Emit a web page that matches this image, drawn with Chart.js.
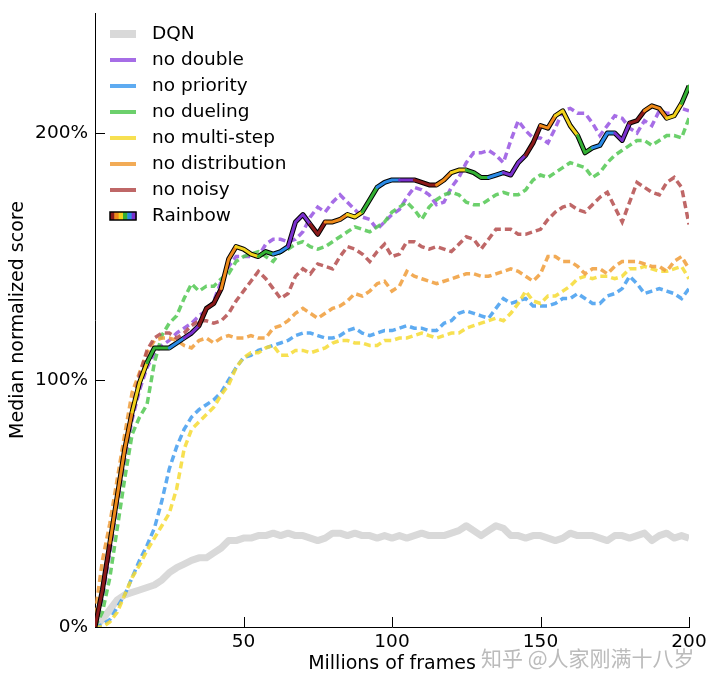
<!DOCTYPE html>
<html>
<head>
<meta charset="utf-8" />
<script src="https://cdn.jsdelivr.net/npm/chart.js@4.4.1/dist/chart.umd.min.js"></script>
<style>
  body { margin: 0; background: #fff; }
  #wrap { position: relative; width: 715px; height: 683px; }
  #mark {
    position: absolute; left: 481px; top: 642px;
    font-family: "Noto Sans CJK SC", sans-serif; font-size: 21px;
    color: rgba(175, 175, 175, 0.85); white-space: nowrap;
  }
</style>
</head>
<body>
<div id="wrap">
  <canvas id="chart" width="715" height="683"></canvas>
  <div id="mark">知乎 @人家刚满十八岁</div>
</div>
<script>
const FONT = "'DejaVu Sans', sans-serif";

// millions of frames, one reading every 2.5
const frames = [
  0, 2.5, 5, 7.5, 10, 12.5, 15, 17.5, 20, 22.5,
  25, 27.5, 30, 32.5, 35, 37.5, 40, 42.5, 45, 47.5,
  50, 52.5, 55, 57.5, 60, 62.5, 65, 67.5, 70, 72.5,
  75, 77.5, 80, 82.5, 85, 87.5, 90, 92.5, 95, 97.5,
  100, 102.5, 105, 107.5, 110, 112.5, 115, 117.5, 120, 122.5,
  125, 127.5, 130, 132.5, 135, 137.5, 140, 142.5, 145, 147.5,
  150, 152.5, 155, 157.5, 160, 162.5, 165, 167.5, 170, 172.5,
  175, 177.5, 180, 182.5, 185, 187.5, 190, 192.5, 195, 197.5, 200,
];

const dqn = [
  0, 3, 7, 11, 13, 14, 15, 16, 17, 19,
  22, 24, 25.5, 27, 28, 28, 30, 32, 35, 35,
  36, 36, 37, 37, 38, 37, 38, 37, 37, 36,
  35, 36, 38, 38, 37, 38, 37, 37, 36, 37,
  36, 37, 36, 37, 38, 37, 37, 37, 38, 39,
  41, 39, 37, 39, 41, 40, 37, 37, 36, 37,
  37, 36, 35, 36, 38, 37, 37, 37, 36, 35,
  37, 37, 36, 37, 38, 35, 37, 38, 36, 37, 36,
];

const noDouble = [
  0, 12, 30, 50, 68, 84, 96, 105, 111, 114,
  116, 119, 121, 123, 126, 128, 132, 140, 146, 150,
  150, 150, 150, 155, 157, 157, 156, 157, 160, 166,
  170, 168, 172, 175, 172, 169, 166, 165, 161, 164,
  167, 169, 174, 178, 177, 175, 171, 172, 178, 182,
  188, 192, 192, 193, 191, 188, 197, 205, 201, 198,
  198, 196, 202, 209, 210, 208, 208, 204, 199, 203,
  207, 206, 202, 200, 205, 203, 209, 208, 208, 210, 209,
];

const noPriority = [
  0, 1, 3, 8, 13, 20, 27, 33, 40, 51,
  64, 73, 80, 85, 88, 90, 92, 95, 100, 105,
  109, 110, 112, 113, 114, 115, 116, 118, 119, 119,
  118, 117, 117, 118, 120, 121, 119, 118, 119, 120,
  120, 121, 122, 121, 121, 120, 120, 123, 124, 127,
  128, 127, 126, 125, 129, 133, 131, 132, 133, 130,
  130, 130, 131, 133, 133, 135, 133, 131, 131, 134,
  135, 137, 142, 139, 135, 136, 137, 136, 135, 133, 137,
];

const noDueling = [
  0, 6, 20, 40, 60, 78, 85, 90, 107, 118,
  123, 126, 133, 139, 136, 138, 138, 141, 143, 148,
  150, 151, 152, 150, 148, 152, 153, 155, 156, 154,
  153, 154, 156, 158, 160, 162, 161, 160, 162, 164,
  168, 170, 172, 169, 165, 170, 173, 175, 176, 175,
  172, 171, 171, 173, 175, 176, 175, 175, 177, 181,
  183, 182, 184, 186, 188, 187, 186, 182, 184, 188,
  191, 193, 195, 197, 197, 195, 197, 199, 199, 198, 206,
];

const noMultiStep = [
  0, 0, 2, 6, 13, 20, 25, 31, 36, 41,
  46, 56, 72, 80, 83, 86, 89, 94, 98, 105,
  109, 111, 111, 113, 114, 110, 110, 112, 112, 111,
  112, 113, 115, 116, 116, 115, 115, 114, 114, 116,
  116, 117, 117, 118, 119, 118, 117, 118, 119, 119,
  121, 122, 123, 124, 125, 124, 127, 131, 136, 132,
  131, 134, 134, 136, 138, 141, 142, 141, 142, 142,
  141, 142, 145, 145, 146, 145, 144, 144, 145, 146, 141,
];

const noDistribution = [
  5, 27, 42, 60, 78, 95, 103, 111, 116, 117,
  117, 116, 114, 113, 116, 117, 115, 117, 118, 117,
  117, 118, 117, 117, 121, 122, 124, 127, 129, 127,
  125, 127, 129, 130, 132, 135, 134, 136, 139, 140,
  136, 138, 144, 142, 141, 140, 139, 140, 141, 142,
  143, 143, 142, 142, 143, 144, 145, 144, 142, 140,
  143, 150, 150, 148, 148, 146, 143, 145, 145, 143,
  146, 148, 148, 148, 147, 146, 146, 144, 148, 150, 145,
];

const noNoisy = [
  0, 14, 32, 52, 70, 88, 102, 112, 117, 119,
  119, 117, 119, 122, 124, 124, 123, 124, 127, 132,
  136, 140, 144, 141, 137, 133, 135, 142, 145, 143,
  147, 146, 145, 150, 154, 153, 151, 148, 152, 155,
  150, 151, 156, 156, 154, 153, 154, 153, 152, 155,
  158, 157, 153, 157, 161, 161, 161, 159, 159, 160,
  161, 165, 168, 170, 171, 169, 168, 171, 174, 176,
  170, 164, 172, 180, 178, 176, 175, 180, 182, 178, 163,
];

const rainbow = [
  0, 15, 34, 53, 72, 87, 99, 107, 113, 113,
  113, 115, 117, 119, 122, 129, 131, 137, 149, 154,
  153, 151, 150, 152, 151, 152, 154, 164, 167, 163,
  159, 164, 164, 165, 167, 166, 168, 173, 178, 180,
  181, 181, 181, 181, 180, 179, 179, 181, 184, 185,
  185, 184, 182, 182, 183, 184, 183, 188, 191, 196,
  203, 202, 207, 209, 203, 199, 192, 194, 195, 200,
  200, 197, 204, 205, 209, 211, 210, 206, 207, 212, 219,
];

const legendNames = ["DQN", "no double", "no priority", "no dueling", "no multi-step", "no distribution", "no noisy", "Rainbow"];
const frameTicks = [50, 100, 150, 200];
const scoreTicks = [0, 100, 200];

const COLORS = {
  "DQN": "#d9d9d9",
  "no double": "rgba(150, 84, 226, 0.85)",
  "no priority": "rgba(66, 156, 238, 0.85)",
  "no dueling": "rgba(82, 200, 82, 0.85)",
  "no multi-step": "rgba(246, 218, 50, 0.85)",
  "no distribution": "rgba(240, 156, 56, 0.85)",
  "no noisy": "rgba(180, 76, 76, 0.85)",
};
const RAINBOW = ["#8b1a1a", "#ee8a1a", "#f2d21c", "#34b034", "#2a8ae6", "#7a30cc"];

function points(values) {
  return values.map((v, i) => ({ x: frames[i], y: v }));
}

function dashed(label, values) {
  return {
    label,
    data: points(values),
    borderColor: COLORS[label],
    borderWidth: 3.5,
    borderDash: [7, 4],
    pointRadius: 0,
  };
}

function rainbowColor(ctx) {
  const mid = (ctx.p0.parsed.x + ctx.p1.parsed.x) / 2;
  return RAINBOW[Math.floor(mid / 6) % RAINBOW.length];
}

function drawSwatch(ctx, name, x, y) {
  if (name === "DQN") {
    ctx.fillStyle = COLORS.DQN;
    ctx.fillRect(x, y - 4, 26, 8);
  } else if (name === "Rainbow") {
    RAINBOW.forEach((c, i) => {
      ctx.fillStyle = c;
      ctx.fillRect(x + i * 26 / 6, y - 4, 26 / 6 + 0.5, 8);
    });
    ctx.strokeStyle = "#000";
    ctx.lineWidth = 1.5;
    ctx.strokeRect(x, y - 4, 26, 8);
  } else {
    ctx.fillStyle = COLORS[name];
    ctx.fillRect(x, y - 2, 26, 4);
  }
}

// inward tick marks and the legend inside the plot
const extras = {
  id: "extras",
  afterDraw(chart) {
    const { ctx, chartArea, scales } = chart;
    ctx.save();
    ctx.strokeStyle = "#000";
    ctx.lineWidth = 1;
    ctx.beginPath();
    frameTicks.forEach((v) => {
      const px = Math.round(scales.x.getPixelForValue(v)) + 0.5;
      ctx.moveTo(px, chartArea.bottom);
      ctx.lineTo(px, chartArea.bottom - 10);
    });
    scoreTicks.forEach((v) => {
      const py = Math.round(scales.y.getPixelForValue(v)) + 0.5;
      ctx.moveTo(chartArea.left, py);
      ctx.lineTo(chartArea.left + 10, py);
    });
    ctx.stroke();

    ctx.font = `18.5px ${FONT}`;
    ctx.textBaseline = "middle";
    legendNames.forEach((name, i) => {
      const y = chartArea.top + 21 + i * 26;
      drawSwatch(ctx, name, chartArea.left + 15, y);
      ctx.fillStyle = "#000";
      ctx.fillText(name, chartArea.left + 57, y);
    });
    ctx.restore();
  },
};

function noPadding(s) {
  s.paddingTop = 0;
  s.paddingBottom = 0;
  s.paddingLeft = 0;
  s.paddingRight = 0;
}

new Chart(document.getElementById("chart"), {
  type: "line",
  data: {
    datasets: [
      {
        label: "Rainbow",
        data: points(rainbow),
        borderWidth: 3,
        borderColor: RAINBOW[0],
        segment: { borderColor: rainbowColor },
        borderCapStyle: "round",
        borderJoinStyle: "round",
        pointRadius: 0,
      },
      {
        label: "Rainbow outline",
        data: points(rainbow),
        borderWidth: 5,
        borderColor: "#000",
        borderJoinStyle: "round",
        pointRadius: 0,
      },
      dashed("no noisy", noNoisy),
      dashed("no distribution", noDistribution),
      dashed("no multi-step", noMultiStep),
      dashed("no dueling", noDueling),
      dashed("no priority", noPriority),
      dashed("no double", noDouble),
      {
        label: "DQN",
        data: points(dqn),
        borderColor: COLORS.DQN,
        borderWidth: 7,
        borderJoinStyle: "round",
        pointRadius: 0,
      },
    ],
  },
  options: {
    responsive: false,
    animation: false,
    layout: { padding: { left: 0, top: 13, right: 26, bottom: 0 } },
    plugins: { legend: { display: false }, tooltip: { enabled: false } },
    scales: {
      x: {
        type: "linear",
        min: 0,
        max: 200,
        grid: { display: false, drawTicks: false },
        border: { display: true, color: "#000", width: 1 },
        afterBuildTicks: (s) => { s.ticks = frameTicks.map((v) => ({ value: v })); },
        afterFit: (s) => { s.height = 56; noPadding(s); },
        ticks: { color: "#000", font: { family: FONT, size: 18.5 }, padding: 4, maxRotation: 0, autoSkip: false },
        title: { display: true, text: "Millions of frames", color: "#000", font: { family: FONT, size: 19 }, padding: { top: 0, bottom: 8 } },
      },
      y: {
        min: 0,
        max: 248.6,
        grid: { display: false, drawTicks: false },
        border: { display: true, color: "#000", width: 1 },
        afterBuildTicks: (s) => { s.ticks = scoreTicks.map((v) => ({ value: v })); },
        afterFit: (s) => { s.width = 95; noPadding(s); },
        ticks: { color: "#000", font: { family: FONT, size: 18.5 }, padding: 7, callback: (v) => `${v}%` },
        title: { display: true, text: "Median normalized score", color: "#000", font: { family: FONT, size: 19 }, padding: { top: 7, bottom: 0 } },
      },
    },
  },
  plugins: [extras],
});
</script>
</body>
</html>
